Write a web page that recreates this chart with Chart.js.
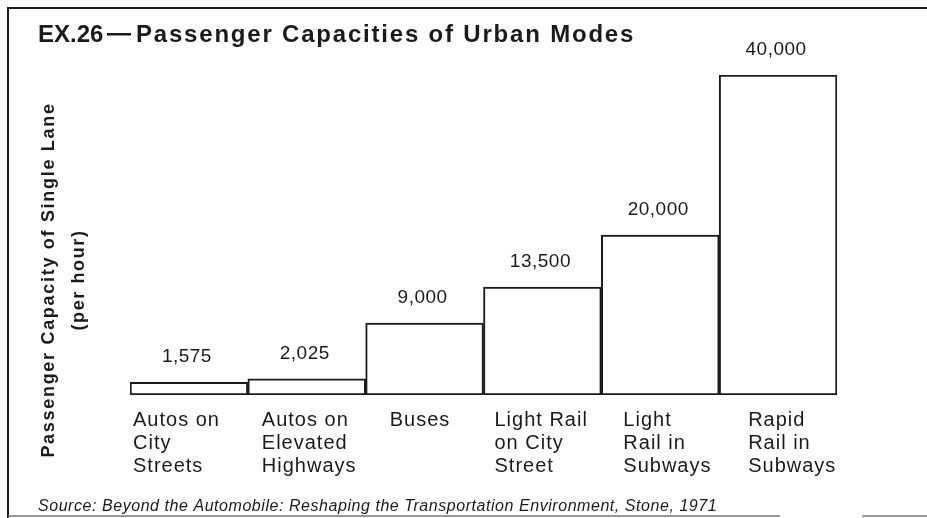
<!DOCTYPE html>
<html>
<head>
<meta charset="utf-8">
<script src="https://cdn.jsdelivr.net/npm/chart.js@4.4.0/dist/chart.umd.min.js"></script>
<style>
  html, body { margin: 0; padding: 0; background: #fff; }
  #wrap { width: 927px; height: 518px; position: relative; }
</style>
</head>
<body>
<div id="wrap"><canvas id="myChart" width="927" height="518"></canvas></div>
<script>
// Chart data
var modes = [
    ['Autos on', 'City', 'Streets'],
    ['Autos on', 'Elevated', 'Highways'],
    ['Buses'],
    ['Light Rail', 'on City', 'Street'],
    ['Light', 'Rail in', 'Subways'],
    ['Rapid', 'Rail in', 'Subways']
];
var capacities = [1575, 2025, 9000, 13500, 20000, 40000];
var valueLabels = ['1,575', '2,025', '9,000', '13,500', '20,000', '40,000'];

var exhibitNo = 'EX.26';
var chartTitle = 'Passenger Capacities of Urban Modes';
var axisTitle = ['Passenger Capacity of Single Lane', '(per hour)'];
var sourceNote = 'Source: Beyond the Automobile: Reshaping the Transportation Environment, Stone, 1971';

// how far each category label sits in from the left edge of its bar
var labelIndent = [3, 14, 24, 11, 22, 29];

var ink = '#1b1b1b';

//Draws the frame, titles, value labels and category labels
var decorations = {
    id: 'decorations',
    afterDraw: function (chart) {
        var ctx = chart.ctx;
        var meta = chart.getDatasetMeta(0);
        ctx.save();

        // frame round the exhibit
        ctx.strokeStyle = ink;
        ctx.lineWidth = 2;
        ctx.beginPath();
        ctx.moveTo(927, 8);
        ctx.lineTo(8, 8);
        ctx.lineTo(8, 518);
        ctx.stroke();
        ctx.strokeStyle = '#777';
        ctx.lineWidth = 1.5;
        ctx.beginPath();
        ctx.moveTo(8, 516);
        ctx.lineTo(780, 516);
        ctx.moveTo(862, 516);
        ctx.lineTo(927, 516);
        ctx.stroke();

        ctx.fillStyle = ink;
        ctx.textBaseline = 'alphabetic';
        ctx.textAlign = 'left';

        // title: exhibit number, dash, then the tracked-out heading
        ctx.font = 'bold 24px "Liberation Sans", Arial, sans-serif';
        ctx.letterSpacing = '0px';
        ctx.fillText(exhibitNo, 38, 42);
        ctx.fillRect(107, 33, 24, 2.5);
        ctx.letterSpacing = '1.8px';
        ctx.fillText(chartTitle, 136, 42);

        // y axis title, rotated
        ctx.save();
        ctx.translate(54, 280);
        ctx.rotate(-Math.PI / 2);
        ctx.textAlign = 'center';
        ctx.font = 'bold 18px "Liberation Sans", Arial, sans-serif';
        ctx.letterSpacing = '1.7px';
        ctx.fillText(axisTitle[0], 0, 0);
        ctx.letterSpacing = '1.6px';
        ctx.fillText(axisTitle[1], 0, 30);
        ctx.restore();

        // value labels above bars
        ctx.font = '19px "Liberation Sans", Arial, sans-serif';
        ctx.letterSpacing = '0.5px';
        ctx.textAlign = 'center';
        meta.data.forEach(function (bar, i) {
            ctx.fillText(valueLabels[i], bar.x - 2, bar.y - 20);
        });

        // category labels, left aligned under each bar
        ctx.font = '20px "Liberation Sans", Arial, sans-serif';
        ctx.letterSpacing = '1px';
        ctx.textAlign = 'left';
        var base = chart.scales.y.getPixelForValue(0);
        meta.data.forEach(function (bar, i) {
            var left = bar.x - bar.width / 2 + labelIndent[i];
            modes[i].forEach(function (line, j) {
                ctx.fillText(line, left, base + 31 + j * 23);
            });
        });

        // source note
        ctx.font = 'italic 16px "Liberation Sans", Arial, sans-serif';
        ctx.letterSpacing = '0.55px';
        ctx.fillText(sourceNote, 38, 511);

        ctx.restore();
    }
};

const ctx = document.getElementById('myChart');
const myChart = new Chart(ctx, {
    type: 'bar',
    data: {
        labels: modes,
        datasets: [{
            data: capacities,
            backgroundColor: '#ffffff',
            borderColor: ink,
            borderWidth: 2,
            borderSkipped: false,
            categoryPercentage: 1.0,
            barPercentage: 1.0
        }]
    },
    options: {
        responsive: false,
        animation: false,
        devicePixelRatio: 1,
        layout: {
            padding: { left: 130, right: 90, top: 75, bottom: 123 }
        },
        plugins: {
            legend: { display: false },
            tooltip: { enabled: false },
            title: { display: false }
        },
        scales: {
            x: { display: false },
            y: { display: false, min: 0, max: 40000 }
        }
    },
    plugins: [decorations]
});
</script>
</body>
</html>
